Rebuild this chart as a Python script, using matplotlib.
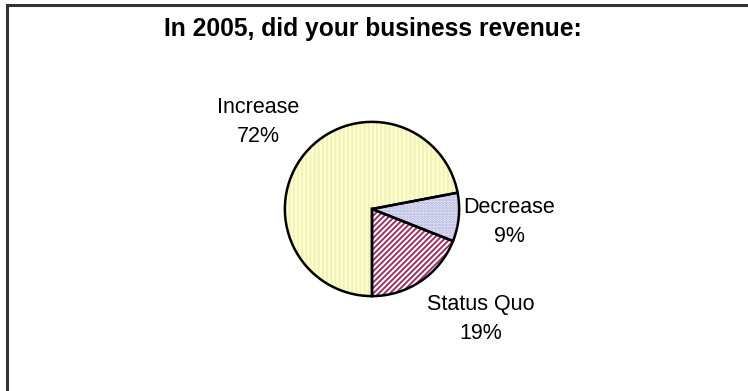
import matplotlib
matplotlib.use("Agg")
import matplotlib.pyplot as plt
from matplotlib.lines import Line2D

plt.rcParams['font.family'] = ['Liberation Sans', 'DejaVu Sans']

title = "In 2005, did your business revenue:"
categories = ["Status Quo", "Decrease", "Increase"]
shares = [19, 9, 72]

face_colors = ["#FFFFFF", "#F2F2FF", "#FFFFCC"]
hatch_colors = ["#993366", "#A8A8D8", "#F0F0BC"]
hatches = ["//////", "......", "||||"]

W, H = 748, 391
fig = plt.figure(figsize=(W / 100, H / 100), dpi=100)
fig.patch.set_facecolor("white")

# outer frame (left and top edges visible)
fig.add_artist(Line2D([7 / W, 7 / W], [0, 1 - 5 / H], transform=fig.transFigure,
                      color="#333333", lw=2.2))
fig.add_artist(Line2D([7 / W, 1], [1 - 5 / H, 1 - 5 / H], transform=fig.transFigure,
                      color="#333333", lw=2.2))

cx, cy, r = 372, 209, 88
ax = fig.add_axes([(cx - r) / W, (H - cy - r) / H, 2 * r / W, 2 * r / H])
ax.axis("off")

plt.rcParams['hatch.linewidth'] = 1.4
wedges, _ = ax.pie(shares, startangle=-90, counterclock=True, radius=1,
                   colors=face_colors, frame=True,
                   wedgeprops=dict(linewidth=0))
for w, hc, ht in zip(wedges, hatch_colors, hatches):
    w.set_hatch(ht)
    w.set_edgecolor(hc)
    w.set_linewidth(0)

# black outlines on top
ax.pie(shares, startangle=-90, counterclock=True, radius=1, frame=True,
       wedgeprops=dict(fill=False, edgecolor="black", linewidth=1.8))

ax.set_xlim(-1.01, 1.01)
ax.set_ylim(-1.01, 1.01)
ax.set_aspect("equal")
ax.axis("off")

fig.text(373 / W, 1 - 29 / H, title, ha="center", va="center",
         fontsize=17.7, fontweight="bold")

label_pos = {"Increase": (258, 122), "Decrease": (509, 222), "Status Quo": (481, 319)}
for cat, val in zip(categories, shares):
    x, y = label_pos[cat]
    fig.text(x / W, 1 - y / H, f"{cat}\n{val}%", ha="center", va="center",
             fontsize=15.5, linespacing=1.5)

fig.savefig("out.png", dpi=100)
